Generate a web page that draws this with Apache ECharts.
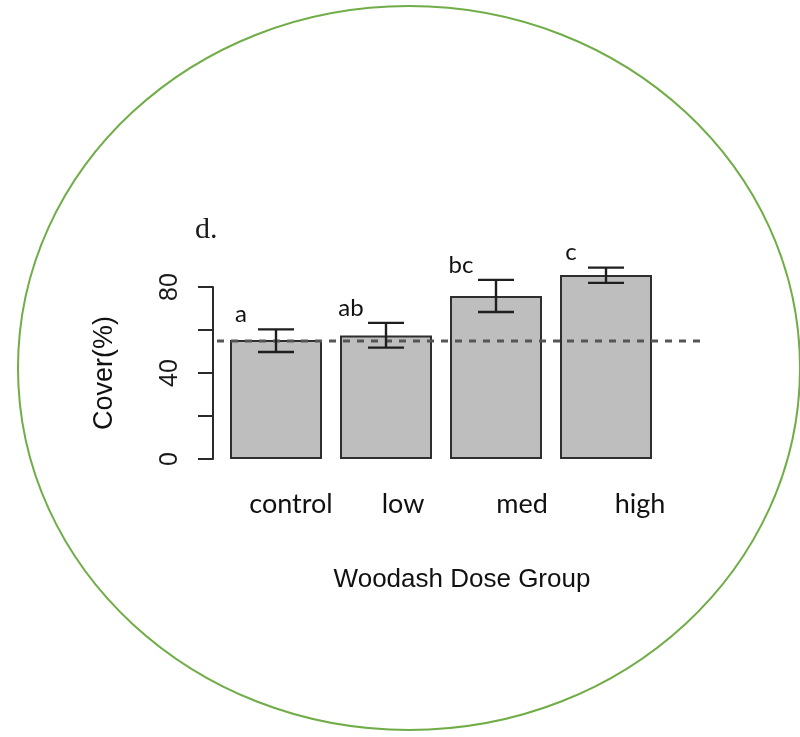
<!DOCTYPE html>
<html>
<head>
<meta charset="utf-8">
<script src="https://cdn.jsdelivr.net/npm/echarts@6/dist/echarts.min.js"></script>
<style>
  html, body { margin: 0; padding: 0; background: #fff; }
  #chart { width: 800px; height: 737px; }
</style>
</head>
<body>
<div id="chart"></div>
<script>
// values
const categories = ['control', 'low', 'med', 'high']
const coverMean = [55.3, 57.5, 75.8, 85.6]
const errLow = [49.8, 51.8, 68.4, 81.9]
const errHigh = [60.3, 63.3, 83.3, 89.0]
const groupLetters = ['a', 'ab', 'bc', 'c']
const refMean = 54.9
const yTicks = [0, 40, 80]

const chart = echarts.init(document.getElementById('chart'))

const labelFont = 'Lato, "Open Sans", sans-serif'
const rFont = '"Liberation Sans", Arial, sans-serif'

const option = {
  animation: false,
  backgroundColor: '#fff',
  title: {
    text: 'd.',
    left: 190,
    top: 210,
    textStyle: {
      fontFamily: '"Liberation Serif", "DejaVu Serif", serif',
      fontSize: 30,
      fontWeight: 'normal',
      color: '#1a1a1a'
    }
  },
  graphic: [
    {
      type: 'ellipse',
      shape: { cx: 409, cy: 368, rx: 391, ry: 362 },
      style: { fill: 'none', stroke: '#70ad47', lineWidth: 2 },
      silent: true
    }
  ],
  grid: [
    { left: 221, width: 440, top: 287, bottom: 278 },
    { left: 217, right: 97, top: 287, bottom: 278 }
  ],
  xAxis: [
    {
      type: 'category',
      gridIndex: 0,
      data: categories,
      axisLine: { show: false },
      axisTick: { show: false },
      axisLabel: {
        interval: 0,
        margin: 32,
        formatter: (v, i) => `{c${i}|${v}}`,
        rich: {
          c0: { fontFamily: labelFont, fontSize: 27, color: '#111', padding: [0, 0, 0, 30] },
          c1: { fontFamily: labelFont, fontSize: 27, color: '#111', padding: [0, 0, 0, 34] },
          c2: { fontFamily: labelFont, fontSize: 27, color: '#111', padding: [0, 0, 0, 52] },
          c3: { fontFamily: labelFont, fontSize: 27, color: '#111', padding: [0, 0, 0, 68] }
        }
      },
      name: 'Woodash Dose Group',
      nameLocation: 'middle',
      nameGap: 108,
      nameTextStyle: {
        fontFamily: rFont,
        fontSize: 26,
        color: '#111',
        padding: [0, 0, 0, 42]
      }
    },
    {
      type: 'value',
      gridIndex: 1,
      min: 0,
      max: 1,
      show: false
    }
  ],
  yAxis: [
    {
      type: 'value',
      gridIndex: 0,
      min: 0,
      max: 80,
      interval: 20,
      offset: 8,
      axisLine: { show: true, lineStyle: { color: '#2a2a2a', width: 2 } },
      axisTick: { show: true, length: 15, lineStyle: { color: '#2a2a2a', width: 2 } },
      splitLine: { show: false },
      axisLabel: {
        rotate: 90,
        margin: 30,
        fontFamily: rFont,
        fontSize: 25,
        color: '#1a1a1a',
        formatter: (v) => (yTicks.indexOf(v) >= 0 ? String(v) : '')
      },
      name: 'Cover(%)',
      nameLocation: 'middle',
      nameRotate: 90,
      nameGap: 95,
      nameTextStyle: { fontFamily: rFont, fontSize: 27, color: '#111' }
    },
    {
      type: 'value',
      gridIndex: 1,
      min: 0,
      max: 80,
      show: false
    }
  ],
  series: [
    {
      type: 'bar',
      xAxisIndex: 0,
      yAxisIndex: 0,
      data: coverMean,
      barWidth: 92,
      clip: false,
      itemStyle: { color: '#bebebe', borderColor: '#2e2e2e', borderWidth: 2 },
      z: 2
    },
    {
      // dashed reference line, spans the wider second grid
      type: 'line',
      xAxisIndex: 1,
      yAxisIndex: 1,
      data: [[0, refMean], [1, refMean]],
      symbol: 'none',
      silent: true,
      lineStyle: { color: '#555', width: 3, type: [7, 7] },
      z: 3
    },
    {
      // error bars and group letters
      type: 'custom',
      xAxisIndex: 0,
      yAxisIndex: 0,
      clip: false,
      z: 4,
      data: categories.map((c, i) => [i, errLow[i], errHigh[i]]),
      renderItem: function (params, api) {
        const i = api.value(0)
        const lo = api.coord([i, api.value(1)])
        const hi = api.coord([i, api.value(2)])
        const cx = lo[0]
        const half = 18
        const st = { stroke: '#1e1e1e', lineWidth: 2.4 }
        return {
          type: 'group',
          children: [
            { type: 'line', shape: { x1: cx, y1: lo[1], x2: cx, y2: hi[1] }, style: st },
            { type: 'line', shape: { x1: cx - half, y1: lo[1], x2: cx + half, y2: lo[1] }, style: st },
            { type: 'line', shape: { x1: cx - half, y1: hi[1], x2: cx + half, y2: hi[1] }, style: st },
            {
              type: 'text',
              style: {
                text: groupLetters[i],
                x: cx - 35,
                y: hi[1] - 3,
                align: 'center',
                verticalAlign: 'bottom',
                font: '24px ' + labelFont,
                fill: '#111'
              }
            }
          ]
        }
      }
    }
  ]
}

chart.setOption(option)
</script>
</body>
</html>
